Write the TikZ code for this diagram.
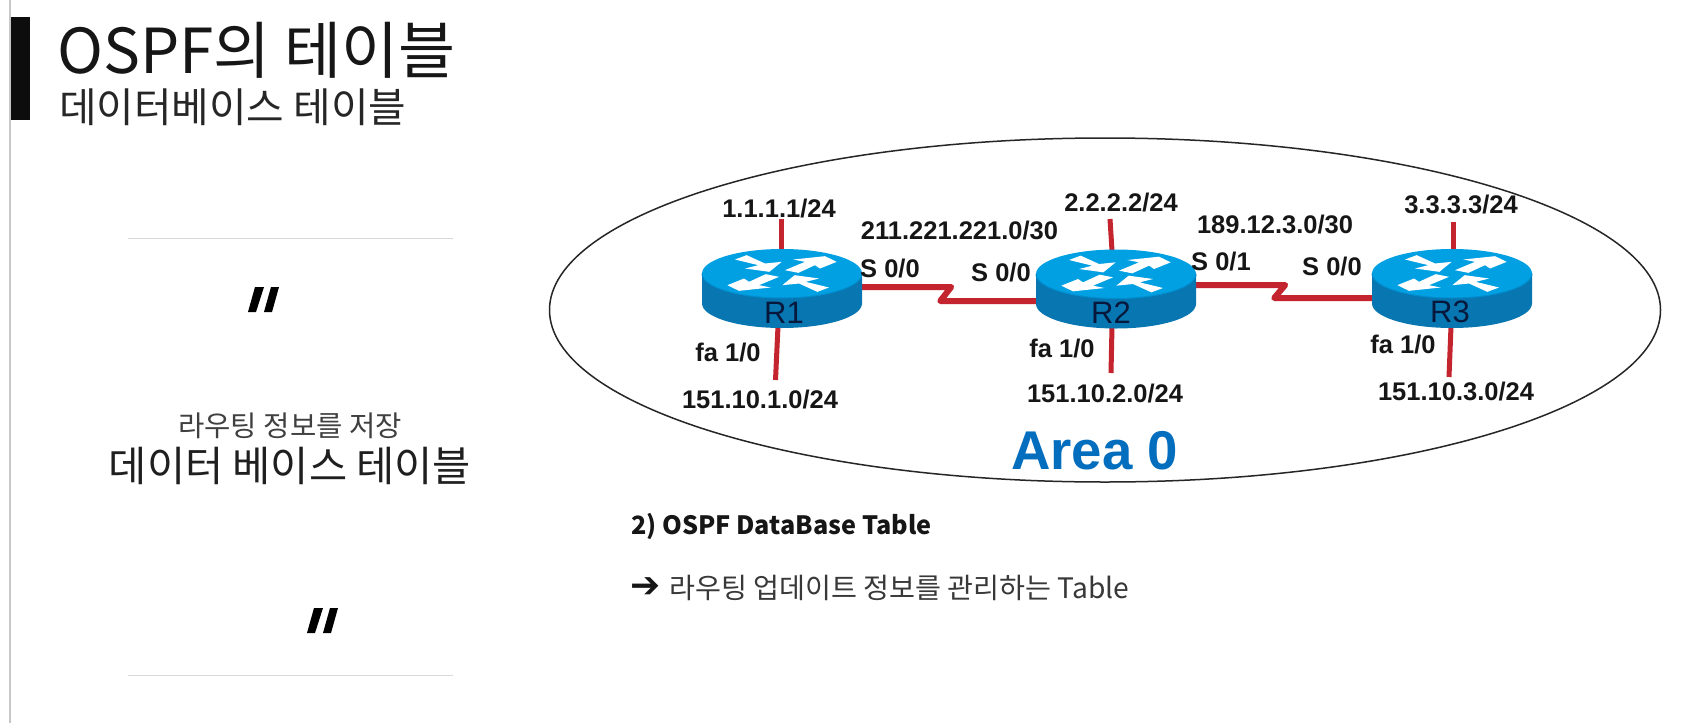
\documentclass[tikz,border=0pt]{standalone}
\usepackage{fontspec}
\usetikzlibrary{shapes.geometric}
\setmainfont{Liberation Sans}
\newfontfamily\krfont{Noto Sans CJK KR}
\newfontfamily\dejavu{DejaVu Sans}
\definecolor{wirered}{RGB}{196,36,46}
\definecolor{topblue}{RGB}{0,160,226}
\definecolor{bodyblue}{RGB}{8,118,176}
\definecolor{rimblue}{RGB}{0,140,205}
\definecolor{areablue}{RGB}{4,110,190}
\definecolor{navy}{RGB}{6,24,60}
\definecolor{ink}{RGB}{22,22,22}
\definecolor{rule}{RGB}{216,216,216}
\tikzset{
  routerbox/.style={inner sep=0pt,minimum width=160pt,minimum height=79pt},
  wire/.style={draw=wirered,line width=5pt},
  serial/.style={draw=wirered,line width=6pt,line join=round},
  netlabel/.style={inner sep=0pt,text=ink,font=\fontsize{25.5}{30}\selectfont\bfseries,text height=18.3pt,text depth=0pt},
  rname/.style={inner sep=0pt,text=navy,font=\fontsize{31}{36}\selectfont,text height=22.2pt,text depth=0pt},
  kr/.style={inner sep=0pt,text=ink,anchor=center},
  hairline/.style={draw=rule,line width=1.6pt},
}
\newcommand{\routericon}[2]{%
  \begin{scope}[shift={(#1,#2)}]
    \fill[bodyblue] (-80,0) -- (-80,30) arc[start angle=180,end angle=0,x radius=80,y radius=24.5] -- (80,0) -- cycle;
    \fill[topblue] (0,0) ellipse[x radius=80,y radius=24.5];
    \draw[rimblue,line width=1pt] (-80,0) arc[start angle=180,end angle=0,x radius=80,y radius=24.5];
    \begin{scope}[x=0.3333pt,y=-0.3333pt]
      \fill[white] (-141,-42) -- (-106,-55) -- (-51,-30) -- (-1,-35) -- (-38,-5) -- (-111,-15) -- (-71,-25) -- cycle;
      \fill[white] (141,42) -- (106,55) -- (51,30) -- (1,35) -- (38,5) -- (111,15) -- (71,25) -- cycle;
      \fill[white] (9,-10) -- (69,-35) -- (34,-42) -- (129,-52) -- (164,-35) -- (114,-15) -- (99,-25) -- (49,-2) -- cycle;
      \fill[white] (-9,10) -- (-69,35) -- (-34,42) -- (-129,52) -- (-164,35) -- (-114,15) -- (-99,25) -- (-49,2) -- cycle;
    \end{scope}
  \end{scope}}
\newcommand{\quotemark}[2]{%
  \begin{scope}[shift={(#1,#2)}]
    \fill[black] (0,25) -- (7,0) -- (16,0) -- (8,25) -- cycle;
    \fill[black] (16,25) -- (23,0) -- (31,0) -- (24,25) -- cycle;
  \end{scope}}
\begin{document}
\begin{tikzpicture}[x=1pt,y=-1pt]
\useasboundingbox (0,0) rectangle (1692,723);
\fill[white] (0,0) rectangle (1692,723);
% slide furniture
\coordinate (edgetop) at (9.5,0);
\coordinate (edgebot) at (9.5,723);
\draw[draw=black!22,line width=2pt] (edgetop) -- (edgebot);
\fill[black!95] (11,17) rectangle (30,120);
\node[kr,anchor=west,font=\krfont\fontsize{62}{70}\selectfont] (title) at (57,50) {OSPF의 테이블};
\node[kr,anchor=west,font=\krfont\fontsize{40.8}{48}\selectfont,text=black!85] (subtitle) at (59,107) {데이터베이스 테이블};
\coordinate (r1a) at (128,238.5);
\coordinate (r1b) at (453,238.5);
\coordinate (r2a) at (128,675.5);
\coordinate (r2b) at (453,675.5);
\draw[hairline] (r1a) -- (r1b);
\draw[hairline] (r2a) -- (r2b);
\quotemark{248}{287}
\quotemark{307}{608}
\node[kr,font=\krfont\fontsize{28.6}{34}\selectfont,text=black!75] (lead) at (290,426) {라우팅 정보를 저장};
\node[kr,font=\krfont\fontsize{41.5}{48}\selectfont,text=black!88] (main) at (290,466) {데이터 베이스 테이블};
% area
\node[draw=black!85,line width=1.5pt,ellipse,inner sep=0pt,minimum width=1111pt,minimum height=344pt] (area) at (1105,310) {};
% routers
\node[routerbox] (R1) at (782,288.5) {};
\node[routerbox] (R2) at (1116,288.5) {};
\node[routerbox] (R3) at (1452,288.5) {};
% stub ends
\coordinate (e1u) at (781,219);
\coordinate (e1d) at (775.5,380);
\coordinate (e2u) at (1110,219);
\coordinate (e2d) at (1111,373);
\coordinate (e3u) at (1453,222);
\coordinate (e3d) at (1449,377);
\draw[wire] (e1u) -- ([xshift=-1pt,yshift=-2pt]R1.north);
\draw[wire] (e1d) -- ([xshift=-4pt,yshift=2pt]R1.south);
\draw[wire] (e2u) -- ([xshift=-4pt,yshift=-2pt]R2.north);
\draw[wire] (e2d) -- ([xshift=-4pt,yshift=2pt]R2.south);
\draw[wire] (e3u) -- ([xshift=1pt,yshift=-2pt]R3.north);
\draw[wire] (e3d) -- ([xshift=-1pt,yshift=2pt]R3.south);
\draw[serial] ([yshift=1.5pt]R1.east) -- ++(89,0) -- ++(-11,14) -- ([yshift=-12.5pt]R2.west);
\draw[serial] ([yshift=3.5pt]R2.east) -- ++(89,0) -- ++(-11,13) -- ([yshift=-9.5pt]R3.west);
\routericon{782}{273.5}
\routericon{1116}{274}
\routericon{1452}{273.5}
\node[rname] (n1) at (784,312) {R1};
\node[rname] (n2) at (1111,312) {R2};
\node[rname] (n3) at (1450,311) {R3};
% labels
\node[netlabel] (l1) at (779,208) {1.1.1.1/24};
\node[netlabel] (l2) at (959.5,230) {211.221.221.0/30};
\node[netlabel] (l3) at (890,268) {S 0/0};
\node[netlabel] (l4) at (1001,272) {S 0/0};
\node[netlabel] (l5) at (1121,202) {2.2.2.2/24};
\node[netlabel] (l6) at (728,352) {fa 1/0};
\node[netlabel] (l7) at (760,399) {151.10.1.0/24};
\node[netlabel] (l8) at (1062,348) {fa 1/0};
\node[netlabel] (l9) at (1105,393) {151.10.2.0/24};
\node[netlabel] (l10) at (1275,224) {189.12.3.0/30};
\node[netlabel] (l11) at (1221,261) {S 0/1};
\node[netlabel] (l12) at (1332,266) {S 0/0};
\node[netlabel] (l13) at (1461,204) {3.3.3.3/24};
\node[netlabel] (l14) at (1403,344) {fa 1/0};
\node[netlabel] (l15) at (1456,391) {151.10.3.0/24};
\node[inner sep=0pt,text=areablue,font=\fontsize{54.6}{60}\selectfont\bfseries,text height=39pt,text depth=0pt] (areaname) at (1094.5,450) {Area 0};
% notes
\node[kr,anchor=west,font=\krfont\bfseries\fontsize{25.2}{30}\selectfont] (h2) at (631,526) {2) OSPF DataBase Table};
\node[kr,anchor=west,font=\dejavu\fontsize{36}{40}\selectfont] (arr) at (630,588) {➔};
\node[kr,anchor=west,font=\krfont\fontsize{28.2}{32}\selectfont,text=black!78] (desc) at (669,588) {라우팅 업데이트 정보를 관리하는 Table};
\end{tikzpicture}
\end{document}
